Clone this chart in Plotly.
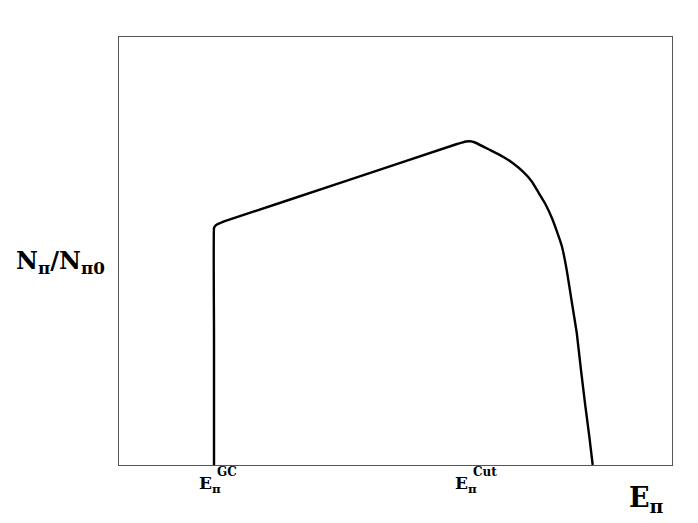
import plotly.graph_objects as go

# Curve (arbitrary units: x 0-100 across the frame, y 0-100 up the frame)
energy = [17.18, 17.18, 17.18, 17.36, 17.7, 18.26, 19.0, 40.0, 61.12, 62.03, 62.75, 63.47, 64.38,
          67.09, 69.44, 71.25, 73.06, 74.68, 75.77, 77.03, 78.30, 79.20, 80.11, 80.96, 81.86,
          82.77, 83.54, 84.27, 85.05, 85.66]
counts = [0.0, 30.0, 55.4, 55.8, 56.2, 56.5, 56.9, 65.9, 75.0, 75.33, 75.58, 75.63, 75.35,
          73.60, 72.03, 70.49, 68.53, 66.19, 63.86, 61.15, 57.64, 54.51, 51.00, 45.56, 38.24,
          30.91, 22.20, 14.42, 6.61, 0.0]

y_label = "N<sub>π</sub>/N<sub>π0</sub>"
x_label = "E<sub>π</sub>"
marker_x = [17.18, 63.47]
marker_base = ["E<sub>π</sub>", "E<sub>π</sub>"]
marker_sup = ["GC", "Cut"]

W, H = 698, 523
L, R, T, B = 119, 26, 37, 58


def px(xp):
    return (xp - L) / (W - L - R)


def py(yp):
    return (H - B - yp) / (H - T - B)


fig = go.Figure()
fig.add_trace(go.Scatter(x=energy, y=counts, mode="lines",
                         line=dict(color="black", width=2.4, shape="spline", smoothing=0.3),
                         hoverinfo="skip", showlegend=False))

FONT = "DejaVu Serif"
ann = []
ann.append(dict(text="<b>" + y_label + "</b>", xref="paper", yref="paper",
                x=px(60), y=py(262), xanchor="center", yanchor="middle",
                showarrow=False, font=dict(family=FONT, size=24, color="black")))
ann.append(dict(text="<b>" + x_label + "</b>", xref="paper", yref="paper",
                x=px(627), y=py(499), xanchor="left", yanchor="middle",
                showarrow=False, font=dict(family=FONT, size=27, color="black")))
for xv, base, sup in zip(marker_x, marker_base, marker_sup):
    ann.append(dict(text="<b>" + base + "</b>", xref="x", yref="paper",
                    x=xv, y=py(484), xanchor="right", yanchor="middle", xshift=9,
                    showarrow=False, font=dict(family=FONT, size=17, color="black")))
    ann.append(dict(text="<b>" + sup + "</b>", xref="x", yref="paper",
                    x=xv, y=py(472), xanchor="left", yanchor="middle", xshift=1,
                    showarrow=False, font=dict(family=FONT, size=12, color="black")))

fig.update_layout(
    width=W, height=H,
    margin=dict(l=L, r=R, t=T, b=B),
    paper_bgcolor="white", plot_bgcolor="white",
    xaxis=dict(range=[0, 100], showgrid=False, zeroline=False, showticklabels=False, ticks="",
               showline=True, linecolor="#555555", linewidth=1.2, mirror=True, fixedrange=True),
    yaxis=dict(range=[0, 100], showgrid=False, zeroline=False, showticklabels=False, ticks="",
               showline=True, linecolor="#555555", linewidth=1.2, mirror=True, fixedrange=True),
    annotations=ann,
)
fig.write_html("out.html", config={"displayModeBar": False},
               post_script="document.body.style.margin='0';document.body.style.padding='0';")
